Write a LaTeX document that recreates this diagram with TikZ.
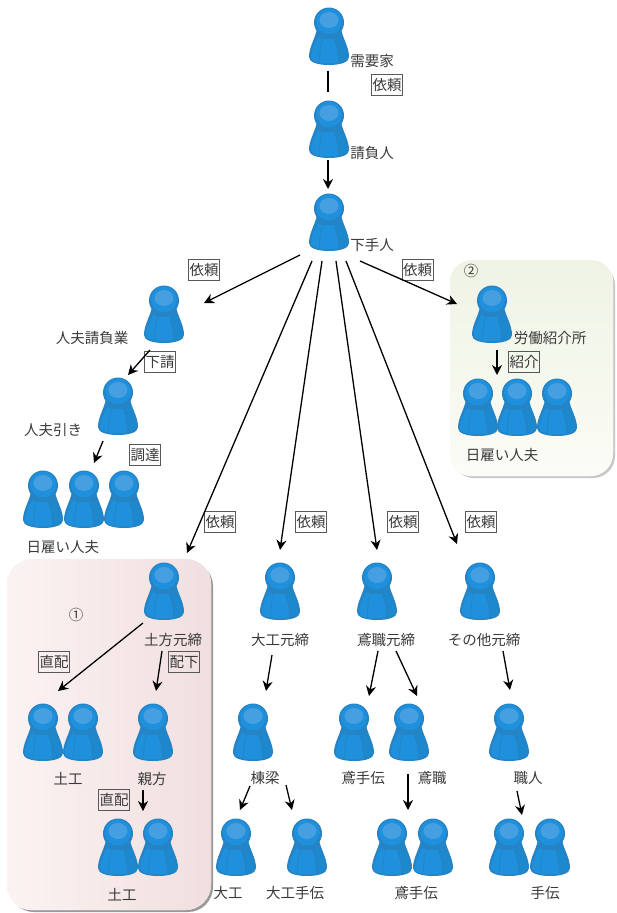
\documentclass[tikz,border=0pt]{standalone}
\usepackage{fontspec}
\setmainfont{Noto Sans CJK JP}
\usetikzlibrary{arrows.meta}
\definecolor{pdark}{HTML}{2584C6}
\definecolor{pmid}{HTML}{1F90DC}
\definecolor{pside}{HTML}{1C88CE}
\definecolor{plight}{HTML}{469FE0}
\definecolor{ink}{HTML}{3A3A3A}
\definecolor{rosea}{HTML}{FBF3F2}
\definecolor{roseb}{HTML}{F1DFDF}
\definecolor{leafa}{HTML}{EFF3E4}
\definecolor{leafb}{HTML}{FBFCF6}
\tikzset{
  x=1pt,y=-1pt,
  personbox/.style={inner sep=0pt,minimum width=40pt,minimum height=58pt},
  caption/.style={text=ink,font=\fontsize{14.5}{15}\selectfont,inner sep=0pt},
  tagbox/.style={draw=ink!85,line width=0.7pt,text=ink,font=\fontsize{14.5}{15}\selectfont,inner sep=0pt,minimum width=31pt,minimum height=21pt},
  link/.style={draw=black,line width=1.3pt,-{Stealth[length=10pt,width=10pt]}},
  plainlink/.style={draw=black,line width=1.3pt},
  figure/.pic={
    \fill[pdark] (-12,22) .. controls (-14,32) and (-20,40) .. (-20,50)
       .. controls (-20,55) and (-12,58) .. (0,58)
       .. controls (12,58) and (20,55) .. (20,50)
       .. controls (20,40) and (14,32) .. (12,22) -- cycle;
    \fill[pmid] (-11,30) .. controls (-14,37) and (-18,43) .. (-18,50)
       .. controls (-18,53) and (-13,55) .. (-10,55.5)
       .. controls (-10,46) and (-9,38) .. (-7,32) -- cycle;
    \fill[pmid] (-6,32) .. controls (-8,38) and (-9,46) .. (-9,56)
       .. controls (-2,56.5) and (4,56.5) .. (9,55.5)
       .. controls (9,46) and (7,38) .. (5,32) -- cycle;
    \fill[pside] (7,32) .. controls (9,38) and (11,46) .. (11,55)
       .. controls (15,54) and (18,53) .. (18,50)
       .. controls (18,43) and (14,37) .. (11,30) -- cycle;
    \fill[pdark] (0,15.5) circle[radius=15];
    \fill[pmid] (0,14.5) circle[radius=13];
    \fill[plight] (0,13) ellipse[x radius=9.5,y radius=8];
  }
}
\newcommand{\person}[3]{%
  \node[personbox] (#1) at (#2,#3+29) {};
  \pic at (#2,#3) {figure};}
\newcommand{\lab}[4]{\node[caption] (#1) at (#2,#3) {#4};}
\newcommand{\tagged}[4]{\node[tagbox] (#1) at (#2,#3) {#4};}
\newcommand{\conn}[4][link]{%
  \coordinate (#2-a) at (#3);
  \coordinate (#2-b) at (#4);
  \draw[#1] (#2-a) -- (#2-b);}
\begin{document}
\begin{tikzpicture}
\useasboundingbox (0,0) rectangle (616,913);
\fill[white] (0,0) rectangle (616,913);
% panels
\fill[black!40,rounded corners=25pt] (9,561) rectangle (213,912);
\fill[white,rounded corners=26pt] (5,557) rectangle (211,910);
\shade[rounded corners=25pt,shading angle=70,left color=rosea,right color=roseb] (7,559) rectangle (211,910);
\fill[black!22,rounded corners=22pt] (452,263) rectangle (615,478);
\fill[white,rounded corners=23pt] (448,258) rectangle (613,476);
\shade[rounded corners=22pt,top color=leafa,bottom color=leafb] (450,260) rectangle (613,476);
% people
\person{juyo}{329}{7}
\person{ukeoi}{329}{100}
\person{shita}{329}{193}
\person{ninpuuke}{164}{285}
\person{ninpuhiki}{118}{377}
\person{hiyoa}{43}{470}
\person{hiyob}{84}{470}
\person{hiyoc}{124}{470}
\person{dokata}{164}{562}
\person{doa}{43}{703}
\person{dob}{83}{703}
\person{oyakata}{153}{703}
\person{doc}{118}{818}
\person{dod}{158}{818}
\person{daiku}{280}{562}
\person{tobi}{377}{562}
\person{sonota}{480}{562}
\person{toryo}{253}{703}
\person{tobite}{354}{703}
\person{tobishoku}{409}{703}
\person{shokunin}{509}{703}
\person{daikub}{236}{818}
\person{daikute}{307}{818}
\person{tobia}{392}{818}
\person{tobib}{433}{818}
\person{tea}{509}{818}
\person{teb}{550}{818}
\person{rodo}{492}{285}
\person{hia}{478}{378}
\person{hib}{517}{378}
\person{hic}{557}{378}
% captions
\lab{c1}{372}{61}{需要家}
\lab{c2}{372}{153}{請負人}
\lab{c3}{372}{245}{下手人}
\lab{c4}{92}{338}{人夫請負業}
\lab{c5}{53}{430}{人夫引き}
\lab{c6}{63}{547}{日雇い人夫}
\lab{c7}{76}{615}{①}
\lab{c8}{471}{271}{②}
\lab{c9}{550}{338}{労働紹介所}
\lab{c10}{502}{455}{日雇い人夫}
\lab{c11}{173}{640}{土方元締}
\lab{c12}{68}{779}{土工}
\lab{c13}{152}{779}{親方}
\lab{c14}{122}{895}{土工}
\lab{c15}{228}{893}{大工}
\lab{c16}{295}{893}{大工手伝}
\lab{c17}{280}{640}{大工元締}
\lab{c18}{265}{778}{棟梁}
\lab{c19}{363}{778}{鳶手伝}
\lab{c20}{432}{778}{鳶職}
\lab{c21}{528}{778}{職人}
\lab{c22}{416}{893}{鳶手伝}
\lab{c23}{545}{893}{手伝}
\lab{c24}{386}{640}{鳶職元締}
\lab{c25}{484}{640}{その他元締}
% tags
\tagged{t1}{387}{85}{依頼}
\tagged{t2}{204}{270}{依頼}
\tagged{t3}{417.5}{270}{依頼}
\tagged{t4}{160}{362}{下請}
\tagged{t5}{145}{455}{調達}
\tagged{t6}{220}{522}{依頼}
\tagged{t7}{311}{522}{依頼}
\tagged{t8}{403}{522}{依頼}
\tagged{t9}{481}{522}{依頼}
\tagged{t10}{54}{662}{直配}
\tagged{t11}{184}{662}{配下}
\tagged{t12}{114}{800}{直配}
\tagged{t13}{524}{362}{紹介}
% connectors
\conn[plainlink]{juyo-ukeoi}{328,71}{328,92}
\conn{ukeoi-shita}{328,160}{328,189}
\conn{shita-ninpuuke}{300,255}{204,303}
\conn{shita-dokata}{312,261}{187,553}
\conn{shita-daiku}{322,261}{280,550}
\conn{shita-tobi}{336,261}{377,550}
\conn{shita-sonota}{346,261}{457,544}
\conn{shita-rodo}{360,261}{457,304}
\conn{ninpuuke-hiki}{150,350}{128,375}
\conn{hiki-hiyo}{103,441}{94,463}
\conn{dokata-do}{143,623}{58,691}
\conn{dokata-oya}{162,651}{156,691}
\conn{oya-doc}{143,790}{143,811}
\conn{daiku-toryo}{272,655}{266,691}
\conn{toryo-daikub}{250,786}{240,810}
\conn{toryo-daikute}{286,785}{292,810}
\conn{tobi-tobite}{378,651}{369,696}
\conn{tobi-shoku}{396,651}{417,696}
\conn{shoku-tobia}{408,774}{408,810}
\conn{sonota-shoku}{503,651}{510,690}
\conn{shoku-tea}{517,791}{522,815}
\conn{rodo-hi}{497,350}{497,375}
\end{tikzpicture}
\end{document}
